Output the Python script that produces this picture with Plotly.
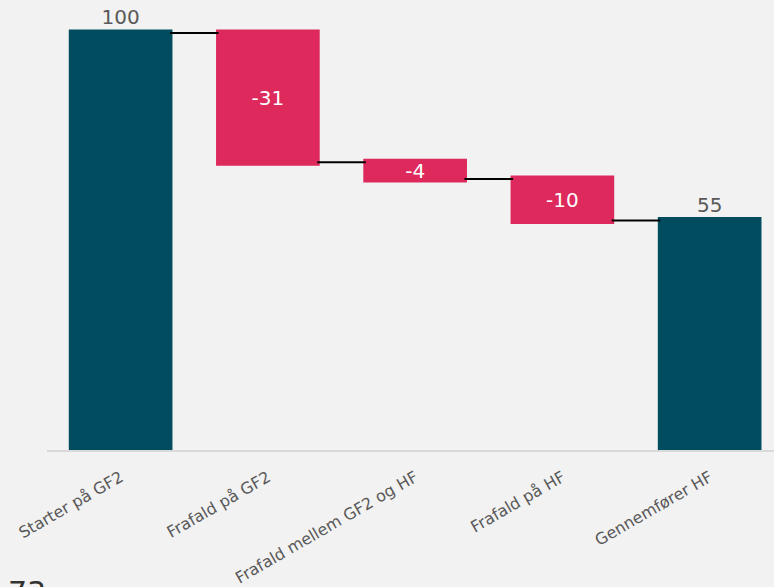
import plotly.graph_objects as go

categories = ["Starter på GF2", "Frafald på GF2", "Frafald mellem GF2 og HF", "Frafald på HF", "Gennemfører HF"]
values = [100, -31, -4, -10, 55]
measures = ["absolute", "relative", "relative", "relative", "total"]
labels = ["100", "-31", "-4", "-10", "55"]
text_positions = ["outside", "inside", "inside", "inside", "outside"]

TEAL = "#014c5f"
PINK = "#dd295c"
BG = "#f2f2f2"
FONT = "DejaVu Sans"

fig = go.Figure(go.Waterfall(
    x=categories,
    y=values,
    measure=measures,
    text=labels,
    textposition=text_positions,
    textangle=0,
    insidetextanchor="middle",
    textfont=dict(family=FONT, size=20),
    insidetextfont=dict(family=FONT, size=20, color="white"),
    outsidetextfont=dict(family=FONT, size=20, color="#595959"),
    constraintext="none",
    cliponaxis=False,
    decreasing=dict(marker=dict(color=PINK, line=dict(color=PINK, width=5))),
    increasing=dict(marker=dict(color=PINK, line=dict(color=PINK, width=5))),
    totals=dict(marker=dict(color=TEAL, line=dict(color=TEAL, width=5))),
    connector=dict(mode="between", line=dict(color="black", width=2)),
    width=0.67,
    hoverinfo="skip",
))

fig.update_layout(
    width=774,
    height=587,
    margin=dict(l=46.7, r=0, t=10, b=135),
    paper_bgcolor=BG,
    plot_bgcolor=BG,
    showlegend=False,
    font=dict(family=FONT, color="#595959"),
    uniformtext=dict(minsize=20, mode="show"),
    xaxis=dict(
        range=[-0.5, 4.437],
        showgrid=False,
        zeroline=False,
        showline=True,
        linecolor="#d9d9d9",
        linewidth=2,
        layer="above traces",
        tickangle=-30,
        ticks="",
        ticklabelstandoff=10,
        tickfont=dict(family=FONT, size=16, color="#595959"),
        fixedrange=True,
    ),
    yaxis=dict(
        range=[0, 105.5],
        showgrid=False,
        zeroline=False,
        showline=False,
        showticklabels=False,
        ticks="",
        fixedrange=True,
    ),
    annotations=[dict(
        text="73",
        xref="paper", yref="paper",
        x=-0.057, y=-0.28,
        xanchor="left", yanchor="top",
        showarrow=False,
        font=dict(family=FONT, size=30, color="#333333"),
    )],
)

fig.write_html(
    "out.html",
    config={"displayModeBar": False},
    post_script="document.body.style.margin='0';document.body.style.padding='0';document.body.style.background='#f2f2f2';document.body.style.overflow='hidden';",
)
